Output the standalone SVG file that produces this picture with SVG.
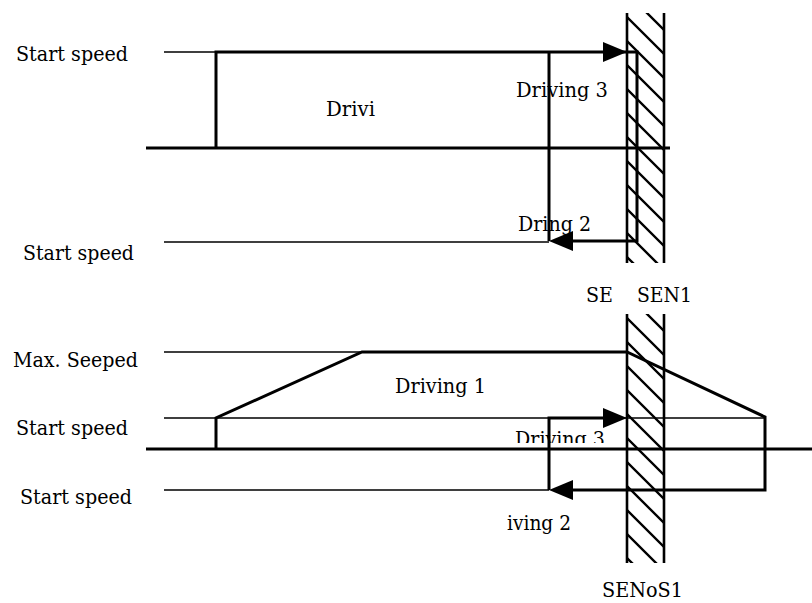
<svg xmlns="http://www.w3.org/2000/svg" width="812" height="603" viewBox="0 0 812 603">
<style>
text{font-family:"DejaVu Serif","Liberation Serif",serif;font-size:20.5px;fill:#000}
.thin{stroke:#000;stroke-width:1.3;fill:none}
.thick{stroke:#000;stroke-width:3;fill:none;stroke-linejoin:miter}
.wall{stroke:#000;stroke-width:2.6;fill:none}
.hatch{stroke:#000;stroke-width:2.4;fill:none}
.ah{fill:#000;stroke:none}
</style>
<defs>
<clipPath id="cTop"><rect x="627" y="13" width="37" height="250"/></clipPath>
<clipPath id="cBot"><rect x="627" y="314" width="37" height="249"/></clipPath>
<clipPath id="cTxt"><rect x="500" y="400" width="120" height="43"/></clipPath>
</defs>
<rect width="812" height="603" fill="#fff"/>

<g id="top-panel">
  <g id="top-labels">
    <text x="16" y="61" textLength="112" lengthAdjust="spacingAndGlyphs">Start speed</text>
    <text x="23" y="260" textLength="111" lengthAdjust="spacingAndGlyphs">Start speed</text>
    <text x="326" y="116" textLength="49" lengthAdjust="spacingAndGlyphs">Drivi</text>
    <text x="516" y="97" textLength="92" lengthAdjust="spacingAndGlyphs">Driving 3</text>
    <text x="518" y="231" textLength="73" lengthAdjust="spacingAndGlyphs">Dring 2</text>
    <text x="586" y="302" textLength="27" lengthAdjust="spacingAndGlyphs">SE</text>
    <text x="637" y="302" textLength="55" lengthAdjust="spacingAndGlyphs">SEN1</text>
  </g>
  <g id="top-wall">
    <path class="hatch" clip-path="url(#cTop)" d="M627,-7l37,37M627,17l37,37M627,41l37,37M627,65l37,37M627,89l37,37M627,113l37,37M627,137l37,37M627,161l37,37M627,185l37,37M627,209l37,37M627,233l37,37M627,257l37,37"/>
    <path class="wall" d="M627,13V263M664,13V263"/>
  </g>
  <g id="top-connectors">
    <path class="thin" d="M164,52H216M164,242H549"/>
    <path class="thick" d="M146,148H670"/>
    <path class="thick" d="M216,148V52H637V241H560"/>
    <path class="thick" d="M549,52V241"/>
    <polygon class="ah" points="627,52 603,42 603,62"/>
    <polygon class="ah" points="549,241 573,231 573,251"/>
  </g>
</g>

<g id="bottom-panel">
  <g id="bottom-labels">
    <text x="13" y="367" textLength="125" lengthAdjust="spacingAndGlyphs">Max. Seeped</text>
    <text x="16" y="435" textLength="112" lengthAdjust="spacingAndGlyphs">Start speed</text>
    <text x="20" y="504" textLength="112" lengthAdjust="spacingAndGlyphs">Start speed</text>
    <text x="395" y="393" textLength="91" lengthAdjust="spacingAndGlyphs">Driving 1</text>
    <text x="515" y="446" textLength="90" lengthAdjust="spacingAndGlyphs" clip-path="url(#cTxt)">Driving 3</text>
    <text x="507" y="530" textLength="64" lengthAdjust="spacingAndGlyphs">iving 2</text>
    <text x="602" y="597" textLength="81" lengthAdjust="spacingAndGlyphs">SENoS1</text>
  </g>
  <g id="bottom-wall">
    <path class="hatch" clip-path="url(#cBot)" d="M627,294l37,37M627,318l37,37M627,342l37,37M627,366l37,37M627,390l37,37M627,414l37,37M627,438l37,37M627,462l37,37M627,486l37,37M627,510l37,37M627,534l37,37M627,558l37,37"/>
    <path class="wall" d="M627,314V563M664,314V563"/>
  </g>
  <g id="bottom-connectors">
    <path class="thin" d="M164,352H362M164,418H765M164,490H549"/>
    <path class="thick" d="M146,449H812"/>
    <path class="thick" d="M216,449V418L362,352H627L765,417V490H560"/>
    <path class="thick" d="M549,490V418H610"/>
    <polygon class="ah" points="627,418 603,408 603,428"/>
    <polygon class="ah" points="549,490 573,480 573,500"/>
  </g>
</g>
</svg>
